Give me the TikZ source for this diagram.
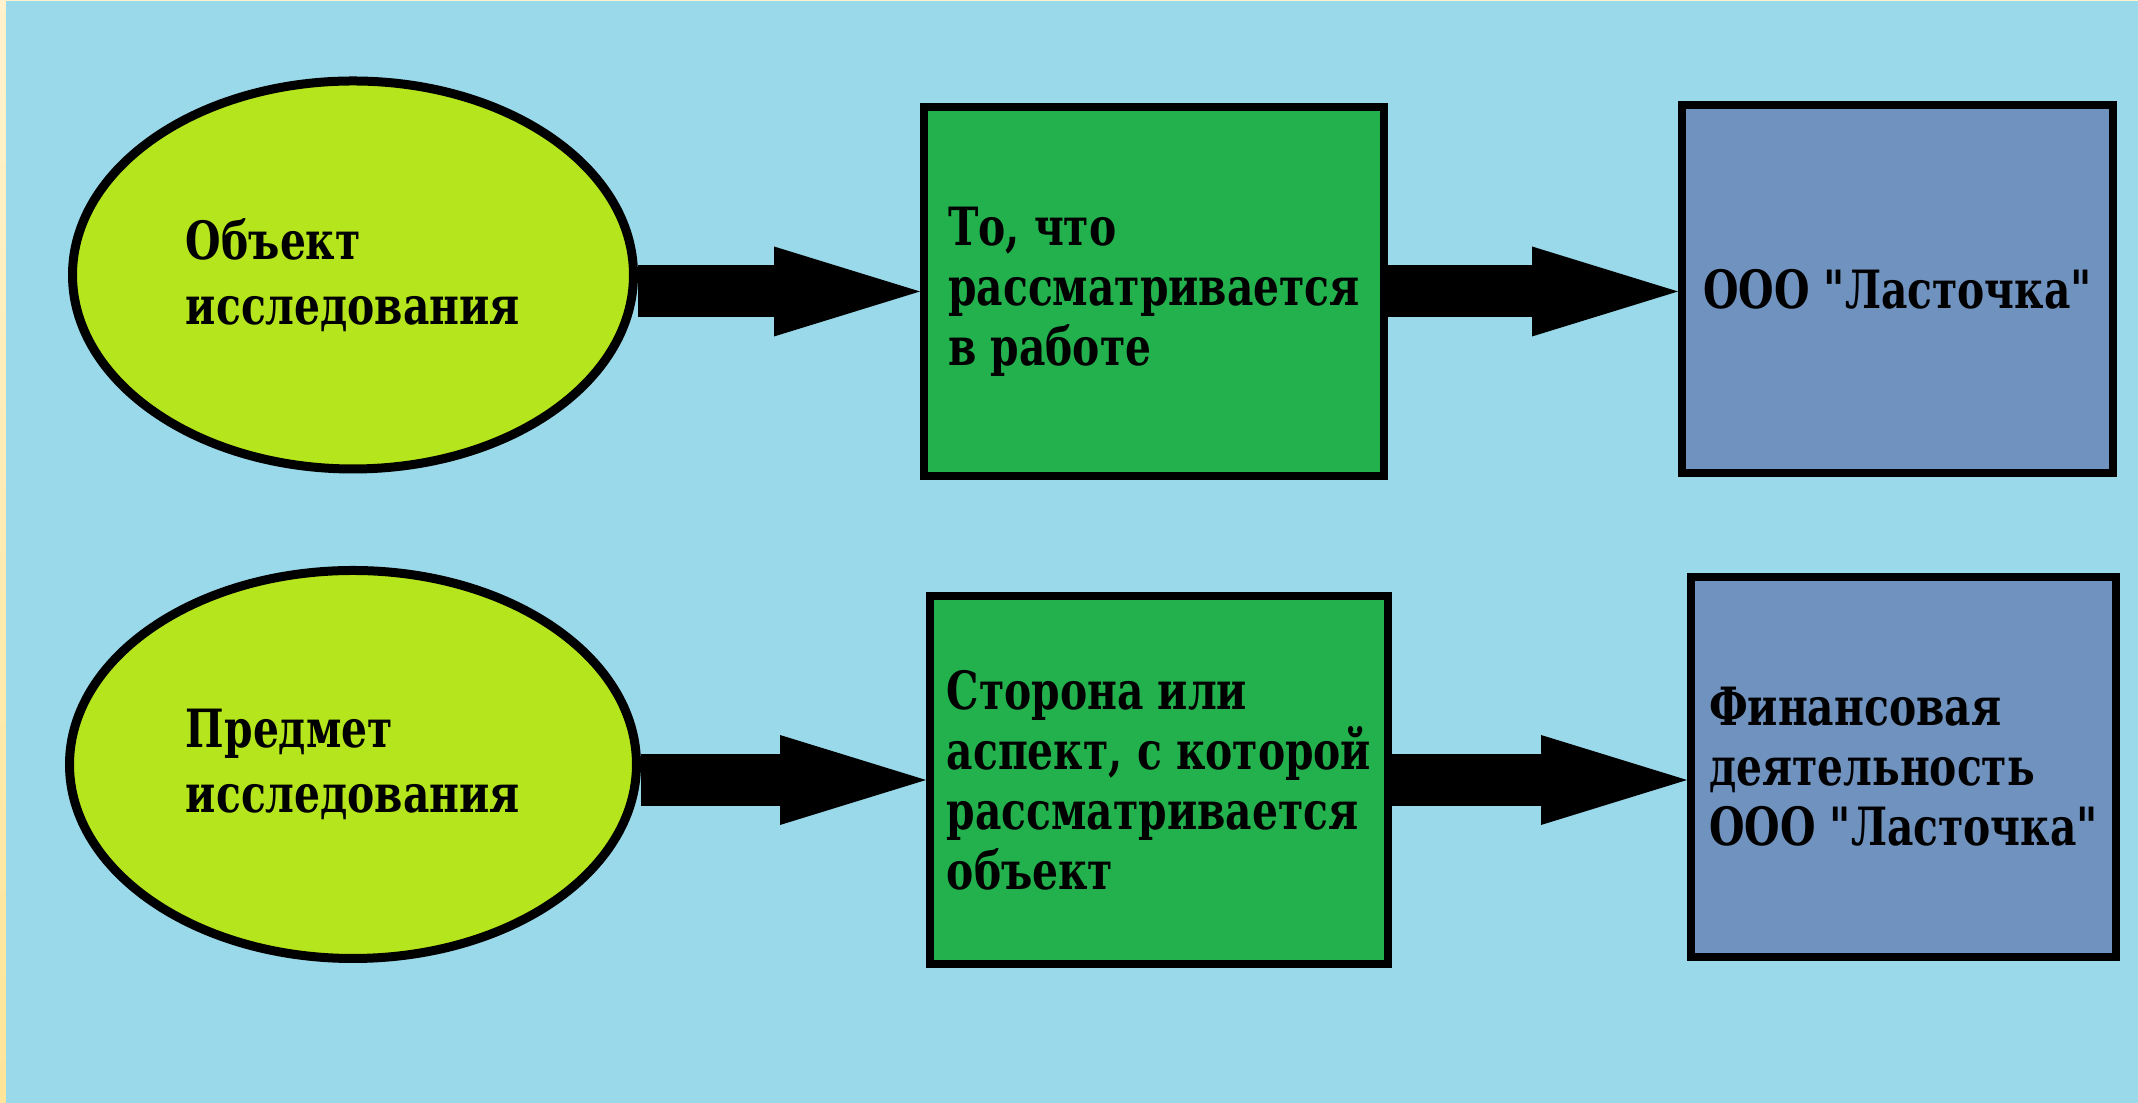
\documentclass[tikz,border=0pt]{standalone}
\usepackage{fontspec}
\usetikzlibrary{shapes.geometric, arrows.meta}
\newfontfamily\boxfont{DejaVu Serif Condensed}[FakeStretch=0.86]
\definecolor{bgblue}{HTML}{99D9EA}
\definecolor{ovalgreen}{HTML}{B5E61D}
\definecolor{boxgreen}{HTML}{22B14C}
\definecolor{boxblue}{HTML}{7092BE}
\definecolor{stripfirst}{HTML}{FFF2CC}
\definecolor{stripsecond}{HTML}{FFE599}

\begin{document}
\begin{tikzpicture}[
    oval/.style={ellipse, draw, line width=0.09cm, fill=ovalgreen, minimum width=5.61cm, minimum height=3.88cm, inner sep=0pt, align=left, font=\boxfont\bfseries\fontsize{15}{18.5}\selectfont},
    box/.style={rectangle, draw, line width=0.08cm, inner sep=0pt, align=left, font=\boxfont\bfseries\fontsize{15}{17.1}\selectfont},
    bigarrow/.style={line width=0.52cm, -{Triangle[length=1.46cm, width=0.9cm, line width=0pt]}}
  ]
  \useasboundingbox (0,0) rectangle (21.38,11.03);
  % background
  \fill[bgblue] (0,0) rectangle (21.38,11.03);
  \shade[top color=stripfirst, bottom color=stripsecond] (0,0) rectangle (0.06,11.03);
  \fill[stripfirst] (0,11.02) rectangle (21.38,11.03);

  % left column
  \node[oval] (o1) at (3.53,8.28) {Объект\\исследования};
  \node[oval, minimum width=5.67cm] (o2) at (3.53,3.385) {Предмет\\исследования};

  % middle column
  \node[box, fill=boxgreen, minimum width=4.60cm, minimum height=3.69cm] (g1) at (11.54,8.115) {То, что\\рассматривается\\в работе};
  \node[box, fill=boxgreen, minimum width=4.58cm, minimum height=3.68cm] (g2) at (11.59,3.23) {Сторона или\\аспект, с которой\\рассматривается\\объект};

  % right column
  \node[box, fill=boxblue, minimum width=4.31cm, minimum height=3.68cm] (b1) at (18.975,8.14) {ООО "Ласточка"};
  \node[box, fill=boxblue, minimum width=4.25cm, minimum height=3.80cm] (b2) at (19.035,3.36) {Финансовая\\деятельность\\ООО "Ласточка"};

  \draw[bigarrow] (o1.east |- g1.west) -- (g1.west);
  \draw[bigarrow] (g1.east) -- (g1.east -| b1.west);
  \draw[bigarrow] (o2.east |- g2.west) -- (g2.west);
  \draw[bigarrow] (g2.east) -- (g2.east -| b2.west);
\end{tikzpicture}
\end{document}
